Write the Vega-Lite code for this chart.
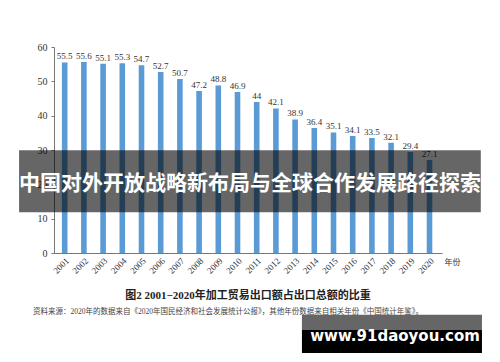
{
  "$schema": "https://vega.github.io/schema/vega-lite/v6.json",
  "width": 388,
  "height": 206,
  "autosize": {"type": "none"},
  "padding": {"left": 54, "top": 47, "right": 58, "bottom": 109},
  "background": "white",
  "config": {"view": {"stroke": null}, "font": "Liberation Serif"},
  "title": {
    "text": "图2  2001−2020年加工贸易出口额占出口总额的比重",
    "orient": "bottom",
    "anchor": "middle",
    "font": "Liberation Serif, Noto Sans CJK SC",
    "fontSize": 11,
    "fontWeight": "bold",
    "color": "#222",
    "offset": -63
  },
  "data": {
    "values": [
      {"year": "2001", "share": 55.5},
      {"year": "2002", "share": 55.6},
      {"year": "2003", "share": 55.1},
      {"year": "2004", "share": 55.3},
      {"year": "2005", "share": 54.7},
      {"year": "2006", "share": 52.7},
      {"year": "2007", "share": 50.7},
      {"year": "2008", "share": 47.2},
      {"year": "2009", "share": 48.8},
      {"year": "2010", "share": 46.9},
      {"year": "2011", "share": 44},
      {"year": "2012", "share": 42.1},
      {"year": "2013", "share": 38.9},
      {"year": "2014", "share": 36.4},
      {"year": "2015", "share": 35.1},
      {"year": "2016", "share": 34.1},
      {"year": "2017", "share": 33.5},
      {"year": "2018", "share": 32.1},
      {"year": "2019", "share": 29.4},
      {"year": "2020", "share": 27.1}
    ]
  },
  "layer": [
    {
      "encoding": {
        "x": {
          "field": "year",
          "type": "ordinal",
          "scale": {"paddingInner": 0, "paddingOuter": 0.104, "align": 0.275},
          "axis": {
            "title": "年份",
            "titleX": 390,
            "titleY": 9,
            "titleAlign": "left",
            "titleAnchor": null,
            "titleBaseline": "middle",
            "titleFont": "Noto Sans CJK SC",
            "titleFontSize": 8,
            "titleFontWeight": "normal",
            "titleColor": "#333",
            "labelAngle": -45,
            "labelFont": "Liberation Serif",
            "labelFontSize": 9,
            "labelColor": "#333",
            "ticks": false,
            "labelPadding": 3,
            "domainColor": "#777",
            "domainWidth": 1
          }
        },
        "y": {
          "field": "share",
          "type": "quantitative",
          "scale": {"domain": [0, 60], "nice": false},
          "axis": {
            "values": [0, 10, 20, 30, 40, 50, 60],
            "tickCount": 7,
            "labelOverlap": false,
            "title": null,
            "grid": false,
            "labelFont": "Liberation Serif",
            "labelFontSize": 10,
            "labelColor": "#333",
            "tickSize": 3,
            "tickColor": "#777",
            "domainColor": "#777",
            "labelPadding": 4
          }
        }
      },
      "layer": [
        {
          "mark": {"type": "bar", "width": 5.6, "color": "#5b9bd5"}
        },
        {
          "mark": {"type": "text", "baseline": "bottom", "dy": -1, "font": "Liberation Serif", "fontSize": 9, "color": "#333"},
          "encoding": {
            "text": {"field": "share", "type": "quantitative", "format": ".1~f"}
          }
        }
      ]
    },
    {
      "data": {"values": [{"label": "banner"}]},
      "mark": {"type": "rect", "color": "#000", "opacity": 0.6},
      "encoding": {
        "x": {"datum": -0.09, "type": "quantitative", "scale": {"domain": [0, 1], "nice": false}, "axis": null},
        "x2": {"datum": 1.1},
        "y": {"datum": 29.9, "type": "quantitative", "scale": {"domain": [0, 60], "nice": false}, "axis": null},
        "y2": {"datum": 11.9}
      }
    },
    {
      "data": {"values": [{"label": "中国对外开放战略新布局与全球合作发展路径探索"}]},
      "mark": {"type": "text", "font": "Noto Sans CJK SC", "fontSize": 21, "fontWeight": "bold", "color": "#ffffff", "align": "center", "baseline": "middle"},
      "encoding": {
        "x": {"datum": 0.505, "type": "quantitative", "scale": {"domain": [0, 1], "nice": false}, "axis": null},
        "y": {"datum": 20, "type": "quantitative", "scale": {"domain": [0, 60], "nice": false}, "axis": null},
        "text": {"field": "label"}
      }
    },
    {
      "data": {"values": [{"label": "资料来源：2020年的数据来自《2020年国民经济和社会发展统计公报》，其他年份数据来自相关年份《中国统计年鉴》。"}]},
      "mark": {"type": "text", "font": "Liberation Serif, Noto Sans CJK SC", "fontSize": 7.5, "color": "#444", "align": "left", "baseline": "middle"},
      "encoding": {
        "x": {"datum": -0.054, "type": "quantitative", "scale": {"domain": [0, 1], "nice": false}, "axis": null},
        "y": {"datum": -17.1, "type": "quantitative", "scale": {"domain": [0, 60], "nice": false}, "axis": null},
        "text": {"field": "label"}
      }
    },
    {
      "data": {"values": [{"part": "top"}]},
      "mark": {"type": "rect", "color": "#666666"},
      "encoding": {
        "x": {"datum": 0.639, "type": "quantitative", "scale": {"domain": [0, 1], "nice": false}, "axis": null},
        "x2": {"datum": 1.103},
        "y": {"datum": -18.0, "type": "quantitative", "scale": {"domain": [0, 60], "nice": false}, "axis": null},
        "y2": {"datum": -22.4}
      }
    },
    {
      "data": {"values": [{"part": "bottom"}]},
      "mark": {"type": "rect", "color": "#000000"},
      "encoding": {
        "x": {"datum": 0.639, "type": "quantitative", "scale": {"domain": [0, 1], "nice": false}, "axis": null},
        "x2": {"datum": 1.103},
        "y": {"datum": -22.4, "type": "quantitative", "scale": {"domain": [0, 60], "nice": false}, "axis": null},
        "y2": {"datum": -29.1}
      }
    },
    {
      "data": {"values": [{"label": "www.91daoyou.com"}]},
      "mark": {"type": "text", "font": "DejaVu Sans", "fontSize": 15, "fontWeight": "bold", "color": "#ffffff", "align": "center", "baseline": "alphabetic"},
      "encoding": {
        "x": {"datum": 0.879, "type": "quantitative", "scale": {"domain": [0, 1], "nice": false}, "axis": null},
        "y": {"datum": -25.6, "type": "quantitative", "scale": {"domain": [0, 60], "nice": false}, "axis": null},
        "text": {"field": "label"}
      }
    }
  ],
  "resolve": {"scale": {"x": "independent", "y": "independent"}}
}
